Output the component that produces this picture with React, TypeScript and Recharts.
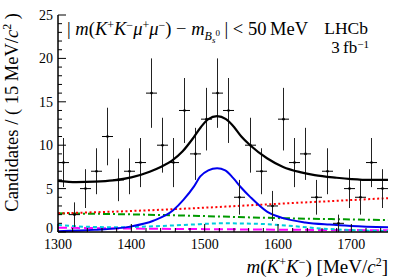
import { ComposedChart, Customized, ErrorBar, Line, Scatter, XAxis, YAxis } from "recharts";

const BIN_CENTERS = [
  1307.5, 1322.5, 1337.5, 1352.5, 1367.5, 1382.5, 1397.5, 1412.5, 1427.5, 1442.5,
  1457.5, 1472.5, 1487.5, 1502.5, 1517.5, 1532.5, 1547.5, 1562.5, 1577.5, 1592.5,
  1607.5, 1622.5, 1637.5, 1652.5, 1667.5, 1682.5, 1697.5, 1712.5, 1727.5, 1742.5,
];
const COUNTS = [8, 2, 5, 7, 11, 6, 7, 8, 16, 10, 8, 14, 9, 13, 16, 14, 4, 10, 7, 3, 13, 8, 9, 4, 7, 1, 5, 4, 8, 5];
const BIN_HALF_WIDTH = 7.5;

// fit curves, sampled by eye
const TOTAL_M = [1300, 1325, 1350, 1375, 1400, 1425, 1440, 1455, 1470, 1485, 1495, 1505, 1517, 1529, 1540, 1550, 1562, 1585, 1607, 1630, 1650, 1680, 1700, 1725, 1750];
const TOTAL_FIT = [5.9, 5.75, 5.8, 5.95, 6.3, 6.95, 7.5, 8.2, 9.3, 10.9, 12.1, 13.0, 13.35, 13.0, 12.1, 11.0, 10.0, 8.5, 7.5, 6.9, 6.55, 6.25, 6.1, 6.0, 6.0];

const SIGNAL_M = [1300, 1350, 1400, 1430, 1457, 1471, 1485, 1494, 1505, 1517, 1528, 1539, 1550, 1562, 1585, 1607, 1637, 1670, 1700, 1750];
const SIGNAL_FIT = [0.1, 0.25, 0.65, 1.3, 2.5, 3.7, 5.2, 6.4, 7.1, 7.35, 7.1, 6.2, 5.1, 4.05, 2.35, 1.6, 1.1, 0.85, 0.7, 0.55];

const RED_M = [1300, 1400, 1500, 1600, 1700, 1750];
const RED_FIT = [2.15, 2.42, 2.8, 3.25, 3.68, 3.9];

const GREEN_M = [1300, 1400, 1500, 1600, 1700, 1750];
const GREEN_FIT = [2.15, 2.03, 1.83, 1.6, 1.45, 1.38];

const CYAN_M = [1300, 1340, 1380, 1430, 1480, 1525, 1570, 1610, 1660, 1700, 1750];
const CYAN_FIT = [0.8, 0.6, 0.55, 0.65, 0.85, 1.0, 0.95, 0.75, 0.4, 0.22, 0.12];

const MAGENTA_M = [1300, 1400, 1500, 1600, 1700, 1750];
const MAGENTA_FIT = [0.5, 0.4, 0.33, 0.27, 0.22, 0.2];

const X_TICKS = [1300, 1320, 1340, 1360, 1380, 1400, 1420, 1440, 1460, 1480, 1500, 1520, 1540, 1560, 1580, 1600, 1620, 1640, 1660, 1680, 1700, 1720, 1740];
const X_MAJOR = [1300, 1400, 1500, 1600, 1700];
const Y_TICKS = [0, 1, 2, 3, 4, 5, 6, 7, 8, 9, 10, 11, 12, 13, 14, 15, 16, 17, 18, 19, 20, 21, 22, 23, 24, 25];
const Y_MAJOR = [0, 5, 10, 15, 20, 25];

const FONT = "'Liberation Serif', 'DejaVu Serif', serif";

const points = BIN_CENTERS.map((m, i) => ({
  m,
  v: COUNTS[i],
  ey: Math.sqrt(COUNTS[i]),
  ex: BIN_HALF_WIDTH,
}));

const curve = (ms: number[], vs: number[]) => ms.map((m, i) => ({ m, v: vs[i] }));

type Seg = { t: string; s?: number; fs?: number; it?: boolean };

function Rich({ x, y, segs, fs, anchor = "start", transform }: { x: number; y: number; segs: Seg[]; fs: number; anchor?: string; transform?: string }) {
  let prev = 0;
  return (
    <text x={x} y={y} fontSize={fs} textAnchor={anchor} fontFamily={FONT} fill="#000" transform={transform}>
      {segs.map((g, i) => {
        const shift = g.s ?? 0;
        const dy = shift - prev;
        prev = shift;
        return (
          <tspan key={i} dy={dy} fontSize={g.fs ?? fs} fontStyle={g.it ? "italic" : undefined}>
            {g.t}
          </tspan>
        );
      })}
    </text>
  );
}

function XTick(props: any) {
  const { x, y, payload, side } = props;
  const major = X_MAJOR.includes(payload.value);
  const len = major ? 8 : 4;
  const dir = side === "top" ? 1 : -1;
  return (
    <g>
      <line x1={x} x2={x} y1={y} y2={y + dir * len} stroke="#000" strokeWidth={1} />
      {major && side !== "top" && (
        <text x={x} y={y + 17} textAnchor="middle" fontSize={14} fontFamily={FONT} fill="#000">
          {payload.value}
        </text>
      )}
    </g>
  );
}

function YTick(props: any) {
  const { x, y, payload, side } = props;
  const major = Y_MAJOR.includes(payload.value);
  const len = major ? 8 : 4;
  const dir = side === "right" ? -1 : 1;
  return (
    <g>
      <line x1={x} x2={x + dir * len} y1={y} y2={y} stroke="#000" strokeWidth={1} />
      {major && side !== "right" && (
        <text x={x - 5} y={payload.value === 0 ? y + 1 : y + 5} textAnchor="end" fontSize={14} fontFamily={FONT} fill="#000">
          {payload.value}
        </text>
      )}
    </g>
  );
}

function Annotations() {
  return (
    <g>
      <Rich
        x={-13}
        y={18}
        fs={18.5}
        anchor="end"
        transform="rotate(-90)"
        segs={[
          { t: "Candidates / ( 15 MeV/" },
          { t: "c", it: true },
          { t: "2", s: -7, fs: 12 },
          { t: " )", s: 0 },
        ]}
      />
      <Rich
        x={388}
        y={273}
        fs={19}
        anchor="end"
        segs={[
          { t: "m", it: true },
          { t: "(" },
          { t: "K", it: true },
          { t: "+", s: -7, fs: 12 },
          { t: "K", s: 0, it: true },
          { t: "\u2212", s: -7, fs: 12 },
          { t: ") [MeV/", s: 0 },
          { t: "c", it: true },
          { t: "2", s: -7, fs: 12 },
          { t: "]", s: 0 },
        ]}
      />
      <Rich
        x={67}
        y={35}
        fs={18.5}
        segs={[
          { t: "| " },
          { t: "m", it: true },
          { t: "(" },
          { t: "K", it: true },
          { t: "+", s: -6, fs: 12 },
          { t: "K", s: 0, it: true },
          { t: "\u2212", s: -6, fs: 12 },
          { t: "\u03bc", s: 0, it: true },
          { t: "+", s: -6, fs: 12 },
          { t: "\u03bc", s: 0, it: true },
          { t: "\u2212", s: -6, fs: 12 },
          { t: ") \u2212 ", s: 0 },
          { t: "m", it: true },
          { t: "B", s: 5, fs: 12, it: true },
          { t: "s", s: 8, fs: 9, it: true },
          { t: "0", s: 1, fs: 9 },
          { t: " | < 50\u2009MeV", s: 0 },
        ]}
      />
      <Rich x={368} y={34} fs={17.5} anchor="end" segs={[{ t: "LHCb" }]} />
      <Rich
        x={369}
        y={53}
        fs={17}
        anchor="end"
        segs={[
          { t: "3\u2009fb" },
          { t: "\u22121", s: -5, fs: 11 },
        ]}
      />
    </g>
  );
}

export default function App() {
  return (
    <div style={{ position: "absolute", left: 0, top: 0, background: "#fff" }}>
      <ComposedChart width={409} height={277} margin={{ top: 15, right: 21, bottom: 0, left: 0 }}>
        <XAxis
          dataKey="m"
          type="number"
          domain={[1300, 1750]}
          allowDataOverflow
          ticks={X_TICKS}
          interval={0}
          height={45}
          tickSize={0}
          tickMargin={0}
          tickLine={false}
          axisLine={{ stroke: "#000", strokeWidth: 1.5 }}
          tick={(p: any) => <XTick {...p} side="bottom" />}
        />
        <XAxis
          xAxisId="top"
          orientation="top"
          dataKey="m"
          type="number"
          domain={[1300, 1750]}
          allowDataOverflow
          ticks={X_TICKS}
          interval={0}
          height={0}
          tickSize={0}
          tickMargin={0}
          tickLine={false}
          axisLine={{ stroke: "#000", strokeWidth: 1.5 }}
          tick={(p: any) => <XTick {...p} side="top" />}
        />
        <YAxis
          type="number"
          domain={[0, 25]}
          allowDataOverflow
          ticks={Y_TICKS}
          interval={0}
          width={58}
          tickSize={0}
          tickMargin={0}
          tickLine={false}
          axisLine={{ stroke: "#000", strokeWidth: 1.5 }}
          tick={(p: any) => <YTick {...p} side="left" />}
        />
        <YAxis
          yAxisId="right"
          orientation="right"
          type="number"
          domain={[0, 25]}
          allowDataOverflow
          ticks={Y_TICKS}
          interval={0}
          width={0}
          tickSize={0}
          tickMargin={0}
          tickLine={false}
          axisLine={{ stroke: "#000", strokeWidth: 1.5 }}
          tick={(p: any) => <YTick {...p} side="right" />}
        />
        <Line data={curve(MAGENTA_M, MAGENTA_FIT)} dataKey="v" type="monotone" stroke="#ff00ff" strokeWidth={2} strokeDasharray="9 4" dot={false} activeDot={false} isAnimationActive={false} />
        <Line data={curve(CYAN_M, CYAN_FIT)} dataKey="v" type="monotone" stroke="#00ccdd" strokeWidth={2} strokeDasharray="4 3" dot={false} activeDot={false} isAnimationActive={false} />
        <Line data={curve(GREEN_M, GREEN_FIT)} dataKey="v" type="monotone" stroke="#009a00" strokeWidth={2} strokeDasharray="7 3 2 3" dot={false} activeDot={false} isAnimationActive={false} />
        <Line data={curve(RED_M, RED_FIT)} dataKey="v" type="monotone" stroke="#ff0000" strokeWidth={2} strokeDasharray="2 2.5" dot={false} activeDot={false} isAnimationActive={false} />
        <Line data={curve(SIGNAL_M, SIGNAL_FIT)} dataKey="v" type="monotone" stroke="#0000ee" strokeWidth={2} dot={false} activeDot={false} isAnimationActive={false} />
        <Scatter
          data={points}
          dataKey="v"
          isAnimationActive={false}
          shape={(p: any) => <circle cx={p.cx} cy={p.cy} r={1.3} fill="#000" />}
        >
          <ErrorBar dataKey="ey" direction="y" width={0} stroke="#222" strokeWidth={1} isAnimationActive={false} />
          <ErrorBar dataKey="ex" direction="x" width={0} stroke="#000" strokeWidth={1} isAnimationActive={false} />
        </Scatter>
        <Line data={curve(TOTAL_M, TOTAL_FIT)} dataKey="v" type="monotone" stroke="#000" strokeWidth={2.2} dot={false} activeDot={false} isAnimationActive={false} />
        <Customized component={Annotations} />
      </ComposedChart>
    </div>
  );
}
